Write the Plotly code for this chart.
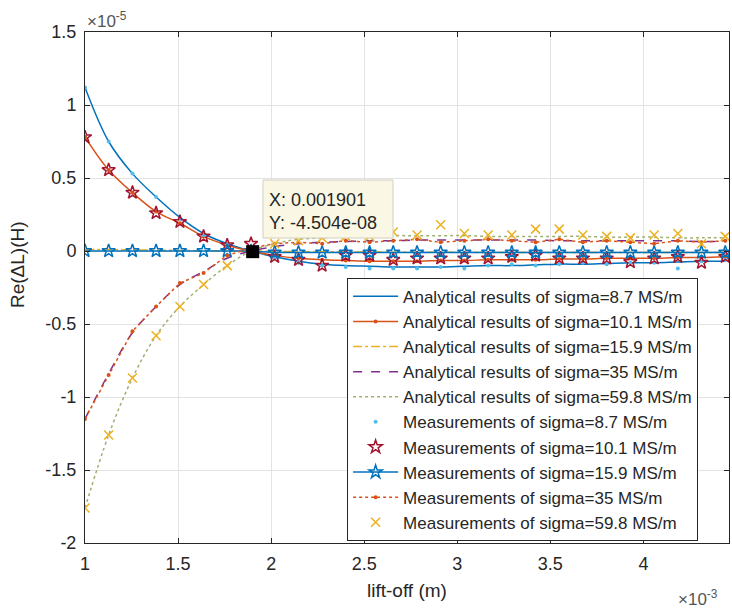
import plotly.graph_objects as go

# lift-off (x 1e-3 m)
liftoff = [1.000, 1.127, 1.255, 1.382, 1.510, 1.637, 1.764, 1.892, 2.019, 2.147,
           2.274, 2.401, 2.529, 2.656, 2.784, 2.911, 3.038, 3.166, 3.293, 3.421,
           3.548, 3.675, 3.803, 3.930, 4.058, 4.185, 4.312, 4.440]

# Re(dL) (x 1e-5 H)
ana_87 = [1.12, 0.75, 0.53, 0.37, 0.23, 0.12, 0.05, 0.00, -0.04, -0.07,
          -0.09, -0.10, -0.105, -0.11, -0.11, -0.11, -0.105, -0.10, -0.10, -0.095,
          -0.09, -0.09, -0.085, -0.08, -0.08, -0.075, -0.07, -0.07]
ana_101 = [0.78, 0.555, 0.40, 0.27, 0.19, 0.10, 0.04, 0.00, -0.03, -0.05,
           -0.06, -0.065, -0.07, -0.07, -0.07, -0.065, -0.065, -0.06, -0.06, -0.06,
           -0.055, -0.055, -0.05, -0.05, -0.05, -0.045, -0.045, -0.04]
ana_159 = [0.01, 0.01, 0.008, 0.006, 0.004, 0.002, 0.001, 0.0, -0.002, -0.004,
           -0.005, -0.006, -0.007, -0.008, -0.008, -0.009, -0.009, -0.01, -0.01, -0.01,
           -0.01, -0.01, -0.01, -0.01, -0.01, -0.01, -0.01, -0.01]
ana_35 = [-1.15, -0.84, -0.56, -0.38, -0.23, -0.14, -0.05, 0.00, 0.03, 0.05,
          0.06, 0.065, 0.07, 0.07, 0.075, 0.075, 0.075, 0.075, 0.075, 0.075,
          0.07, 0.07, 0.07, 0.07, 0.07, 0.07, 0.065, 0.065]
ana_598 = [-1.76, -1.26, -0.87, -0.58, -0.38, -0.23, -0.10, 0.00, 0.05, 0.08,
           0.09, 0.10, 0.10, 0.105, 0.105, 0.105, 0.105, 0.10, 0.10, 0.10,
           0.10, 0.10, 0.095, 0.095, 0.095, 0.09, 0.09, 0.09]

meas_87 = [1.12, 0.75, 0.53, 0.37, 0.22, 0.11, 0.05, 0.00, -0.05, -0.08,
           -0.10, -0.11, -0.12, -0.12, -0.12, -0.11, -0.12, -0.10, -0.09, -0.10,
           -0.09, -0.08, -0.09, -0.08, -0.08, -0.12, -0.07, -0.06]
meas_101 = [0.78, 0.555, 0.40, 0.26, 0.20, 0.10, 0.04, 0.05, -0.04, -0.06,
            -0.10, -0.03, -0.03, -0.06, -0.05, -0.05, -0.05, -0.05, -0.04, -0.03,
            -0.05, -0.05, -0.05, -0.075, -0.05, -0.04, -0.08, -0.04]
meas_159 = [0.0, 0.0, 0.0, 0.0, 0.0, 0.0, 0.0, 0.0, -0.01, -0.01,
            -0.01, -0.01, -0.01, -0.01, -0.01, -0.01, -0.01, -0.01, -0.01, -0.01,
            -0.01, -0.01, -0.01, -0.01, -0.01, -0.01, -0.01, -0.01]
meas_35 = [-1.15, -0.85, -0.55, -0.38, -0.22, -0.15, -0.03, 0.02, 0.05, 0.06,
           0.05, 0.07, 0.06, 0.07, 0.08, 0.06, 0.07, 0.08, 0.07, 0.06,
           0.08, 0.06, 0.07, 0.06, 0.05, 0.07, 0.06, 0.07]
meas_598 = [-1.76, -1.26, -0.87, -0.58, -0.38, -0.23, -0.10, 0.00, 0.05, 0.07,
            0.09, 0.10, 0.10, 0.13, 0.11, 0.18, 0.12, 0.11, 0.11, 0.15,
            0.15, 0.11, 0.10, 0.09, 0.11, 0.12, 0.05, 0.10]

tip_x = 1.901      # x 1e-3
tip_y = -0.004504  # x 1e-5

x_ticks = [1, 1.5, 2, 2.5, 3, 3.5, 4]
x_labels = ["1", "1.5", "2", "2.5", "3", "3.5", "4"]
y_ticks = [-2, -1.5, -1, -0.5, 0, 0.5, 1, 1.5]
y_labels = ["-2", "-1.5", "-1", "-0.5", "0", "0.5", "1", "1.5"]

FONT = "Liberation Sans, Arial, sans-serif"
TXT = "#262626"
W = 1.5

fig = go.Figure()
fig.add_trace(go.Scatter(x=liftoff, y=ana_87, mode="lines", line=dict(color="#0072BD", width=W, shape="spline"),
                         name="Analytical results of sigma=8.7 MS/m"))
fig.add_trace(go.Scatter(x=liftoff, y=ana_101, mode="lines+markers", line=dict(color="#D95319", width=W, shape="spline"),
                         marker=dict(symbol="circle", size=4, color="#D95319"),
                         name="Analytical results of sigma=10.1 MS/m"))
fig.add_trace(go.Scatter(x=liftoff, y=ana_159, mode="lines", line=dict(color="#EDB120", width=W, dash="dashdot", shape="spline"),
                         name="Analytical results of sigma=15.9 MS/m"))
fig.add_trace(go.Scatter(x=liftoff, y=ana_35, mode="lines", line=dict(color="#7E2F8E", width=W, dash="dash", shape="spline"),
                         name="Analytical results of sigma=35 MS/m"))
fig.add_trace(go.Scatter(x=liftoff, y=ana_598, mode="lines", line=dict(color="#A0B070", width=W, dash="dot", shape="spline"),
                         name="Analytical results of sigma=59.8 MS/m"))

fig.add_trace(go.Scatter(x=liftoff, y=meas_87, mode="markers",
                         marker=dict(symbol="circle", size=4, color="#4DBEEE"),
                         name="Measurements of sigma=8.7 MS/m"))
fig.add_trace(go.Scatter(x=liftoff, y=meas_101, mode="markers",
                         marker=dict(symbol="star-open", size=10, color="#A2142F", line=dict(width=1.5)),
                         name="Measurements of sigma=10.1 MS/m"))
fig.add_trace(go.Scatter(x=liftoff, y=meas_159, mode="lines+markers", line=dict(color="#0072BD", width=W),
                         marker=dict(symbol="star-open", size=10, color="#0072BD", line=dict(width=1.5)),
                         name="Measurements of sigma=15.9 MS/m"))
fig.add_trace(go.Scatter(x=liftoff, y=meas_35, mode="lines+markers", line=dict(color="#D95319", width=W, dash="dot"),
                         marker=dict(symbol="circle", size=4, color="#D95319"),
                         name="Measurements of sigma=35 MS/m"))
fig.add_trace(go.Scatter(x=liftoff, y=meas_598, mode="markers",
                         marker=dict(symbol="x-thin-open", size=9, color="#EDB120", line=dict(width=1.5, color="#EDB120")),
                         name="Measurements of sigma=59.8 MS/m"))

fig.add_trace(go.Scatter(x=[tip_x], y=[tip_y], mode="markers", showlegend=False,
                         marker=dict(symbol="square", size=13, color="black")))

axis_common = dict(showline=True, linecolor=TXT, linewidth=1, mirror="ticks",
                   ticks="inside", ticklen=5, tickcolor=TXT,
                   showgrid=True, gridcolor="#E3E3E3", gridwidth=1, zeroline=False,
                   tickfont=dict(family=FONT, size=18, color=TXT))

fig.update_layout(
    width=732, height=610,
    margin=dict(l=85, r=3, t=32, b=67),
    paper_bgcolor="white", plot_bgcolor="white",
    font=dict(family=FONT, size=18, color=TXT),
    xaxis=dict(range=[1, 4.46], tickvals=x_ticks, ticktext=x_labels, ticklabelstandoff=4, **axis_common),
    yaxis=dict(range=[-2, 1.5], tickvals=y_ticks, ticktext=y_labels, ticklabelstandoff=4, **axis_common),
    legend=dict(x=0.407, y=0.519, xanchor="left", yanchor="top",
                bgcolor="white", bordercolor=TXT, borderwidth=1,
                font=dict(family=FONT, size=17, color=TXT),
                tracegroupgap=0, itemwidth=45),
    showlegend=True,
)

# data tip box
fig.add_shape(type="rect", xref="paper", yref="paper",
              x0=(263 - 85) / 644, x1=(393 - 85) / 644,
              y0=(543 - 238) / 511, y1=(543 - 180) / 511,
              fillcolor="#FAF8E4", line=dict(color="#CFCFC0", width=1), layer="above")
fig.add_annotation(xref="paper", yref="paper", x=(267 - 85) / 644, y=(543 - 200) / 511,
                   text="X: 0.001901", showarrow=False, xanchor="left", yanchor="middle",
                   font=dict(family=FONT, size=18, color=TXT))
fig.add_annotation(xref="paper", yref="paper", x=(267 - 85) / 644, y=(543 - 223) / 511,
                   text="Y: -4.504e-08", showarrow=False, xanchor="left", yanchor="middle",
                   font=dict(family=FONT, size=18, color=TXT))

# exponent labels
fig.add_annotation(xref="paper", yref="paper", x=(85 - 85) / 644, y=(543 - 20) / 511,
                   text="×10<sup>-5</sup>", showarrow=False, xanchor="left", yanchor="middle",
                   font=dict(family=FONT, size=17, color="#555555"))
fig.add_annotation(xref="paper", yref="paper", x=(676 - 85) / 644, y=(543 - 598) / 511,
                   text="×10<sup>-3</sup>", showarrow=False, xanchor="left", yanchor="middle",
                   font=dict(family=FONT, size=17, color="#555555"))

# axis titles
fig.add_annotation(xref="paper", yref="paper", x=0.5, y=(543 - 590) / 511,
                   text="lift-off (m)", showarrow=False, xanchor="center", yanchor="middle",
                   font=dict(family=FONT, size=19, color=TXT))
fig.add_annotation(xref="paper", yref="paper", x=(17 - 85) / 644, y=(543 - 265) / 511,
                   text="Re(ΔL)(H)", showarrow=False, textangle=-90, xanchor="center", yanchor="middle",
                   font=dict(family=FONT, size=19, color=TXT))

fig.write_html("out.html")
